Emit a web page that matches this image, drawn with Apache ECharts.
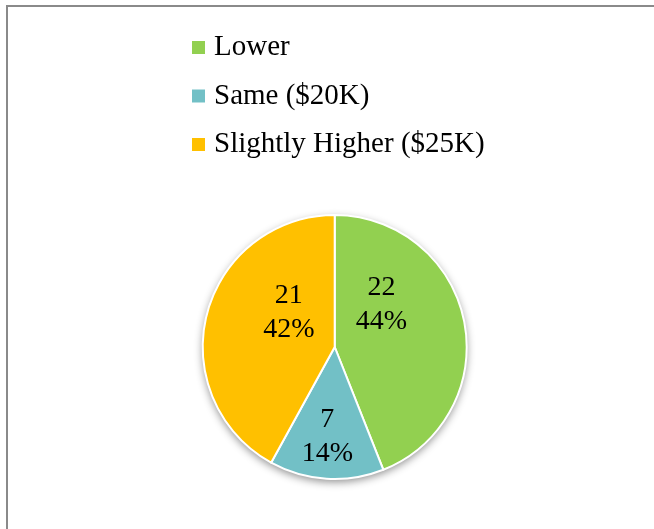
<!DOCTYPE html>
<html>
<head>
<meta charset="utf-8">
<script src="https://cdn.jsdelivr.net/npm/echarts@6/dist/echarts.min.js"></script>
<style>
  html, body { margin: 0; padding: 0; background: #fff; }
  #chart { position: absolute; left: 0; top: 0; width: 654px; height: 529px; }
  #frame { position: absolute; left: 6px; top: 5px; width: 660px; height: 540px;
           border-left: 2px solid #8a8a8a; border-top: 2px solid #8a8a8a; pointer-events: none; }
</style>
</head>
<body>
<div id="chart"></div>
<div id="frame"></div>
<script>
const categories = ['Lower', 'Same ($20K)', 'Slightly Higher ($25K)'];
const values = [22, 7, 21];
const colors = ['#92D050', '#72C0C6', '#FFC000'];
// label nudges (px) to mimic best-fit placement
const labelShift = [[-21, -29], [-3, 21], [21, -17]];

const total = values.reduce((a, b) => a + b, 0);
const serif = '"Liberation Serif", "Times New Roman", serif';

const chart = echarts.init(document.getElementById('chart'), null, { renderer: 'canvas' });
chart.setOption({
  animation: false,
  backgroundColor: 'transparent',
  legend: {
    orient: 'vertical',
    left: 190,
    top: 33,
    padding: 0,
    itemWidth: 15,
    itemHeight: 15,
    itemGap: 19.5,
    icon: 'rect',
    data: categories,
    textStyle: { fontFamily: serif, fontSize: 29, color: '#000', lineHeight: 29, padding: [0, 0, 0, 3] }
  },
  series: [
    {
      type: 'pie',
      silent: true,
      center: [334.7, 347],
      radius: 132,
      startAngle: 90,
      clockwise: true,
      label: { show: false },
      labelLine: { show: false },
      itemStyle: {
        color: '#fff',
        shadowBlur: 9,
        shadowOffsetY: 3,
        shadowColor: 'rgba(0,0,0,0.45)'
      },
      data: [{ value: total, name: '_bg' }],
      legendHoverLink: false
    },
    {
      type: 'pie',
      center: [334.7, 347],
      radius: 132,
      startAngle: 90,
      clockwise: true,
      data: categories.map((c, i) => ({ name: c, value: values[i], itemStyle: { color: colors[i] } })),
      itemStyle: { borderColor: '#fff', borderWidth: 2 },
      label: {
        show: true,
        position: 'inside',
        formatter: p => p.value + '\n' + Math.round(p.percent) + '%',
        fontFamily: serif,
        fontSize: 28,
        lineHeight: 34,
        color: '#000',
        align: 'center'
      },
      labelLine: { show: false },
      labelLayout: p => ({ dx: labelShift[p.dataIndex][0], dy: labelShift[p.dataIndex][1] })
    }
  ]
});
</script>
</body>
</html>
